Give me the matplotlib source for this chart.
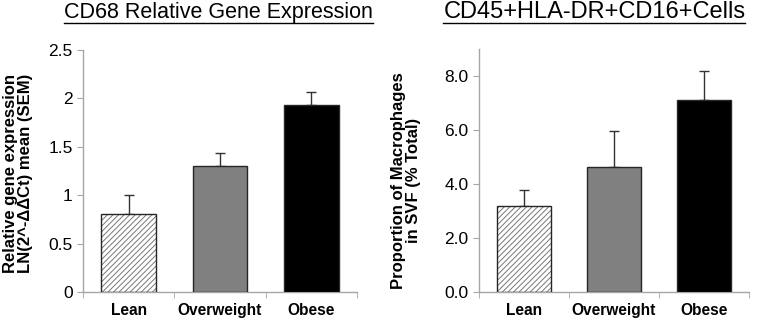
import numpy as np
import matplotlib.pyplot as plt
from matplotlib.lines import Line2D

plt.rcParams['font.family'] = ['Liberation Sans', 'DejaVu Sans']
plt.rcParams['hatch.linewidth'] = 0.7

# data
groups = ['Lean', 'Overweight', 'Obese']
cd68_mean = [0.81, 1.30, 1.93]
cd68_sem = [0.19, 0.14, 0.14]
mac_mean = [3.2, 4.62, 7.12]
mac_sem = [0.6, 1.33, 1.08]

cd68_ticks = [0, 0.5, 1, 1.5, 2, 2.5]
cd68_ticklabels = ['0', '0.5', '1', '1.5', '2', '2.5']
mac_ticks = [0, 2, 4, 6, 8]
mac_ticklabels = ['0.0', '2.0', '4.0', '6.0', '8.0']

fills = ['white', '#808080', 'black']
axis_grey = '#a6a6a6'

fig = plt.figure(figsize=(7.61, 3.21), dpi=100)
ax1 = fig.add_axes([0.109, 0.090, 0.360, 0.754])
ax2 = fig.add_axes([0.629, 0.090, 0.355, 0.757])


def draw_panel(ax, mean, sem, ymax, ticks, ticklabels, ylabel):
    x = np.arange(len(groups))
    # hatch layer for the lean bar, then outlines on top
    ax.bar(x[0], mean[0], width=0.6, color='white', edgecolor='#777777',
           hatch='//////', linewidth=0, zorder=2)
    ax.bar(x, mean, width=0.6, color=['none', fills[1], fills[2]],
           edgecolor='#262626', linewidth=1.0, zorder=3)
    ax.errorbar(x, mean, yerr=[[0] * len(x), sem], fmt='none',
                ecolor='#333333', elinewidth=1.0, capsize=3.5, capthick=1.0,
                zorder=1)
    ax.set_xlim(-0.5, len(x) - 0.5)
    ax.set_ylim(0, ymax)
    ax.set_yticks(ticks)
    ax.set_yticklabels(ticklabels, fontsize=12.5)
    ax.set_xticks(x)
    ax.set_xticklabels(groups, fontsize=11.2, fontweight='bold')
    ax.set_xticks(np.arange(-0.5, len(x)), minor=True)
    ax.tick_params(axis='x', which='major', length=0, pad=8)
    ax.tick_params(axis='x', which='minor', length=4, color=axis_grey,
                   direction='out')
    ax.tick_params(axis='y', length=4, color=axis_grey, direction='out')
    for s in ['top', 'right']:
        ax.spines[s].set_visible(False)
    for s in ['left', 'bottom']:
        ax.spines[s].set_color(axis_grey)
        ax.spines[s].set_linewidth(1.0)
    ax.set_ylabel(ylabel, fontsize=12, fontweight='bold', linespacing=1.0)


draw_panel(ax1, cd68_mean, cd68_sem, 2.5, cd68_ticks, cd68_ticklabels,
           'Relative gene expression\nLN(2^-\u0394\u0394Ct) mean (SEM)')
draw_panel(ax2, mac_mean, mac_sem, 9.0, mac_ticks, mac_ticklabels,
           'Proportion of Macrophages\nin SVF (% Total)')
ax1.yaxis.set_label_coords(-0.182, 0.49)
ax2.yaxis.set_label_coords(-0.215, 0.46)

# underlined titles
titles = [('CD68 Relative Gene Expression', 0.287, 15.5),
          ('CD45+HLA-DR+CD16+Cells', 0.781, 17)]
fig.canvas.draw()
renderer = fig.canvas.get_renderer()
for txt, xc, fs in titles:
    t = fig.text(xc, 0.962, txt, fontsize=fs, ha='center', va='center')
    bb = t.get_window_extent(renderer).transformed(fig.transFigure.inverted())
    fig.add_artist(Line2D([bb.x0, bb.x1], [0.929, 0.929], color='black',
                          linewidth=1.0, transform=fig.transFigure))

fig.savefig('out.png', dpi=100)
